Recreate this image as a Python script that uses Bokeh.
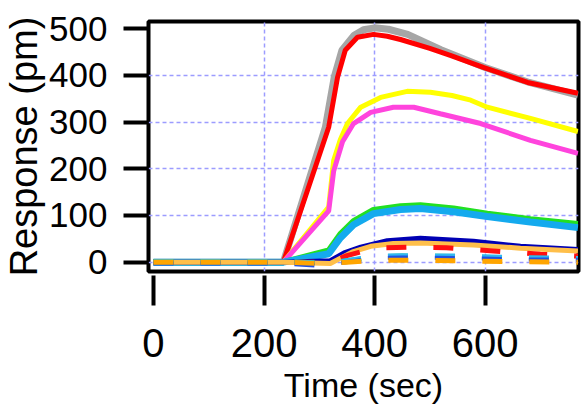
from bokeh.plotting import figure
from bokeh.models import FixedTicker, Range1d
from bokeh.embed import file_html
from bokeh.resources import INLINE

# Sensor response traces (time in seconds, response in pm)
t_gray = [0, 235, 311, 327, 341, 363, 380, 400, 425, 460, 520, 600, 680, 768]
y_gray = [0, 0, 289, 396, 454, 486, 498, 502, 499, 488, 455, 417, 385, 358]

t_red = [0, 235, 317, 333, 347, 369, 398, 423, 447, 500, 537, 598, 677, 768]
y_red = [0, 0, 289, 396, 454, 482, 488, 484, 477, 458, 443, 417, 385, 362]

t_yellow = [0, 235, 317, 326, 338, 351, 375, 411, 459, 501, 540, 574, 604, 682, 768]
y_yellow = [0, 0, 118, 218, 262, 297, 332, 353, 366, 364, 357, 347, 332, 308, 280]

t_magenta = [0, 235, 317, 326, 342, 362, 393, 434, 471, 519, 592, 682, 768]
y_magenta = [0, 0, 110, 195, 258, 297, 321, 332, 332, 318, 297, 261, 233]

t_green = [0, 235, 317, 338, 362, 398, 447, 483, 543, 604, 682, 768]
y_green = [0, 0, 25, 60, 88, 112, 120, 122, 115, 104, 92, 82]

t_sky = [0, 235, 317, 338, 362, 398, 447, 483, 543, 604, 682, 768]
y_sky = [0, 0, 18, 52, 80, 104, 113, 115, 108, 98, 86, 74]

t_navy = [0, 235, 320, 345, 375, 423, 483, 579, 664, 768]
y_navy = [0, 0, 3, 20, 32, 46, 51, 45, 34, 27]

t_orange = [0, 235, 320, 360, 393, 434, 483, 579, 664, 768]
y_orange = [0, 0, -3, 22, 34, 40, 41, 37, 30, 24]

# Control traces (dashed)
t_red_d = [0, 235, 320, 350, 375, 420, 460, 530, 615, 700, 768]
y_red_d = [0, 0, 0, 14, 22, 31, 32, 31, 24, 17, 13]

t_green_d = [0, 235, 320, 400, 450, 550, 650, 768]
y_green_d = [1, 1, -2, 11, 13, 12, 9, 7]

t_sky_d = [0, 235, 320, 400, 450, 550, 650, 768]
y_sky_d = [1, 1, -2, 12, 14, 13, 10, 8]

t_blue_d = [0, 235, 300, 340, 400, 450, 550, 650, 768]
y_blue_d = [-3, -3, -8, -2, 9, 10, 9, 6, 5]

t_orange_d = [0, 235, 300, 350, 400, 450, 550, 650, 768]
y_orange_d = [0, 0, -3, 0, 4, 4, 3, 1, 0]

x_ticks = [0, 200, 400, 600]
y_ticks = [0, 100, 200, 300, 400, 500]

FONT = "Liberation Sans"

p = figure(width=581, height=411, output_backend="svg", toolbar_location=None,
           x_range=Range1d(-9, 769), y_range=Range1d(-20, 515.6),
           min_border_left=148, min_border_right=3, min_border_top=21,
           min_border_bottom=140)

p.background_fill_color = "white"
p.border_fill_color = "white"
p.outline_line_color = "black"
p.outline_line_width = 4

# grid
p.xgrid.ticker = FixedTicker(ticks=[200, 400, 600])
p.ygrid.ticker = FixedTicker(ticks=[0, 100, 200, 300, 400])
for g in (p.xgrid, p.ygrid):
    g.grid_line_color = "#9c9cff"
    g.grid_line_dash = "4 3"
    g.grid_line_width = 1.5

# axes
p.xaxis.ticker = FixedTicker(ticks=x_ticks)
p.yaxis.ticker = FixedTicker(ticks=y_ticks)
for ax in (p.xaxis, p.yaxis):
    ax.axis_line_color = None
    ax.minor_tick_line_color = None
    ax.major_tick_line_color = "black"
    ax.major_tick_line_width = 4
    ax.major_label_text_font = FONT
    ax.major_label_text_color = "black"
    ax.axis_label_text_font = FONT
    ax.axis_label_text_font_style = "normal"
    ax.axis_label_text_color = "black"

p.xaxis.major_tick_in = -4
p.xaxis.major_tick_out = 34
p.xaxis.major_label_standoff = 23
p.xaxis.major_label_text_font_size = "40px"
p.xaxis.axis_label = "Time (sec)"
p.xaxis.axis_label_text_font_size = "34px"
p.xaxis.axis_label_standoff = 6

p.yaxis.major_tick_in = 0
p.yaxis.major_tick_out = 25
p.yaxis.major_label_standoff = 16
p.yaxis.major_label_text_font_size = "35px"
p.yaxis.axis_label = "Response (pm)"
p.yaxis.axis_label_text_font_size = "38px"
p.yaxis.axis_label_standoff = 1

# solid traces
p.line(t_gray, y_gray, line_color="#a6a6a6", line_width=7)
p.line(t_red, y_red, line_color="#ff0000", line_width=5)
p.line(t_yellow, y_yellow, line_color="#ffff00", line_width=5)
p.line(t_magenta, y_magenta, line_color="#ff44dd", line_width=5)
p.line(t_green, y_green, line_color="#22e022", line_width=6)
p.line(t_sky, y_sky, line_color="#14aaee", line_width=7)
p.line(t_navy, y_navy, line_color="#0000b4", line_width=5)
p.line(t_orange, y_orange, line_color="#ffbf4a", line_width=5)

# dashed traces
dash = "20 27"
p.line(t_red_d, y_red_d, line_color="#ff1010", line_width=5, line_dash=dash)
p.line(t_green_d, y_green_d, line_color="#33cc33", line_width=5, line_dash=dash)
p.line(t_sky_d, y_sky_d, line_color="#30b8f0", line_width=5, line_dash=dash)
p.line(t_blue_d, y_blue_d, line_color="#2050e0", line_width=4, line_dash=dash)
p.line(t_orange_d, y_orange_d, line_color="#ffa500", line_width=5, line_dash=dash)

open("out.html", "w").write(file_html(p, INLINE))
